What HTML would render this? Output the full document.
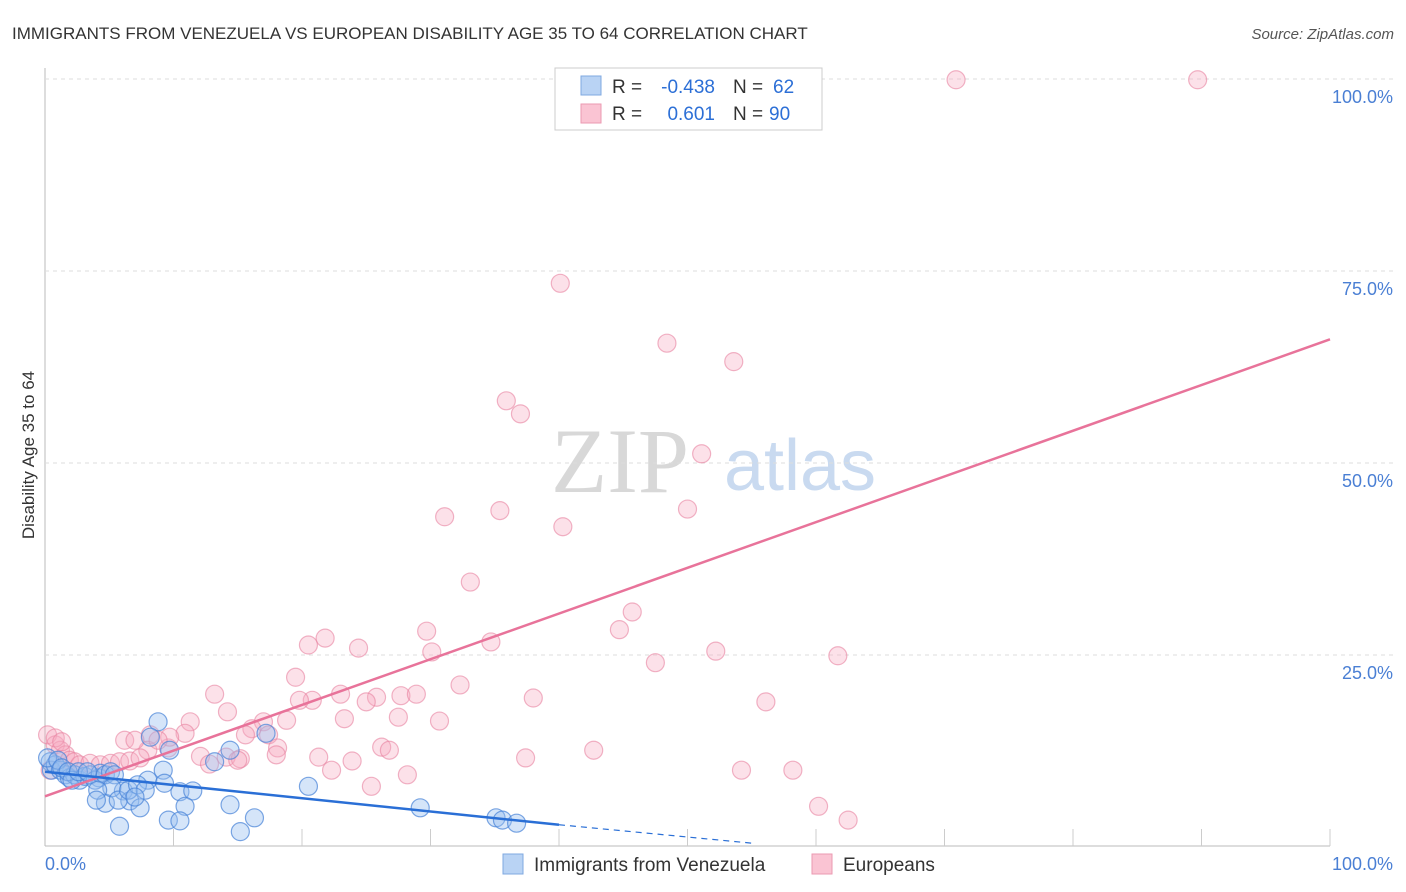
<!DOCTYPE html>
<html><head><meta charset="utf-8"><style>
body{margin:0;background:#fff;font-family:"Liberation Sans",sans-serif;}
svg{display:block}
</style></head><body>
<svg id="chart" width="1406" height="892">
<text x="12" y="39" font-size="17" fill="#333">IMMIGRANTS FROM VENEZUELA VS EUROPEAN DISABILITY AGE 35 TO 64 CORRELATION CHART</text>
<text x="1394" y="39" font-size="15" fill="#555" font-style="italic" text-anchor="end">Source: ZipAtlas.com</text>
<text x="620" y="492" font-size="92" fill="#d8d8d8" font-family="Liberation Serif,serif" text-anchor="middle">ZIP</text>
<text x="800" y="490" font-size="72" fill="#c9daf0" text-anchor="middle">atlas</text>
<g id="grid"></g>
<g id="pts"></g>
<g id="lines"></g>
<text transform="translate(34,455) rotate(-90)" font-size="17" fill="#333" text-anchor="middle">Disability Age 35 to 64</text>
<text x="45" y="870" font-size="18" fill="#4a7fd4">0.0%</text>
<text x="1393" y="870" font-size="18" fill="#4a7fd4" text-anchor="end">100.0%</text>
<g>
<rect x="555" y="68" width="267" height="62" fill="#fff" stroke="#ccc"/>
<rect x="581" y="76" width="20" height="19" fill="#b9d3f4" stroke="#7fa8e0"/>
<rect x="581" y="104" width="20" height="19" fill="#fac4d3" stroke="#eb9ab1"/>
<text x="612" y="93" font-size="19" fill="#333">R =</text>
<text x="715" y="93" font-size="19" fill="#2c6fd6" text-anchor="end">-0.438</text>
<text x="733" y="93" font-size="19" fill="#333">N =</text>
<text x="773" y="93" font-size="19" fill="#2c6fd6">62</text>
<text x="612" y="120" font-size="19" fill="#333">R =</text>
<text x="715" y="120" font-size="19" fill="#2c6fd6" text-anchor="end">0.601</text>
<text x="733" y="120" font-size="19" fill="#333">N =</text>
<text x="769" y="120" font-size="19" fill="#2c6fd6">90</text>
</g>
<g>
<rect x="503" y="854" width="20" height="20" fill="#b9d3f4" stroke="#7fa8e0"/>
<text x="534" y="871" font-size="19" fill="#333">Immigrants from Venezuela</text>
<rect x="812" y="854" width="20" height="20" fill="#fac4d3" stroke="#eb9ab1"/>
<text x="843" y="871" font-size="19" fill="#333">Europeans</text>
</g>
</svg>
<script>
const yTicks=[25,50,75,100];
const yTickLabels=["25.0%","50.0%","75.0%","100.0%"];
const xTicks=[10,20,30,40,50,60,70,80,90,100];
const pinkX=[70.9,89.7,40.1,48.4,53.6,35.9,37.0,51.1,31.1,35.4,40.3,50.0,33.1,45.7,44.7,29.7,34.7,21.8,20.5,24.4,30.1,52.2,47.5,61.7,19.5,32.3,13.2,20.8,23.0,25.8,27.7,28.9,38.0,25.0,19.8,56.1,14.2,11.3,23.3,30.7,17.0,18.8,27.5,8.2,10.9,16.1,17.4,15.6,26.2,26.8,9.6,8.0,18.1,42.7,12.1,14.1,15.2,12.8,21.3,23.9,37.4,18.0,22.3,28.2,54.2,58.2,25.4,60.2,62.5,0.2,0.8,1.2,1.6,1.9,2.3,2.7,3.5,4.3,5.1,5.8,6.6,7.4,0.8,1.3,0.4,6.2,9.7,15.0,8.8,7.0];
const pinkY=[99.9,99.9,73.4,65.6,63.2,58.1,56.4,51.2,43.0,43.8,41.7,44.0,34.5,30.6,28.3,28.1,26.7,27.2,26.3,25.9,25.4,25.5,24.0,24.9,22.1,21.1,19.9,19.1,19.9,19.5,19.7,19.9,19.4,18.9,19.1,18.9,17.6,16.3,16.7,16.4,16.3,16.5,16.9,14.6,14.8,15.4,14.6,14.6,13.0,12.6,12.9,12.6,12.9,12.6,11.8,11.7,11.5,10.8,11.7,11.2,11.6,12.0,10.0,9.4,10.0,10.0,7.9,5.3,3.5,14.6,13.3,12.6,12.0,11.3,11.1,10.7,10.9,10.7,10.9,11.1,11.2,11.6,14.2,13.7,10.0,13.9,14.3,11.3,13.9,13.9];
const blueX=[8.8,14.4,9.7,8.2,17.2,9.2,8.0,10.5,11.5,4.2,4.7,6.1,6.6,7.4,5.8,10.9,14.4,9.6,10.5,15.2,16.3,20.5,29.2,35.1,35.6,36.7,0.4,0.5,0.8,1.2,1.6,1.9,2.3,2.7,3.1,3.5,3.9,4.3,4.7,5.1,5.4,0.2,1.0,1.3,1.8,2.1,2.6,3.3,5.2,5.7,6.5,7.2,7.8,4.1,4.0,7.0,13.2,9.3];
const blueY=[16.3,12.6,12.6,14.3,14.8,10.0,8.7,7.2,7.3,9.0,5.7,7.3,6.0,5.1,2.7,5.3,5.5,3.5,3.4,2.0,3.8,7.9,5.1,3.8,3.5,3.1,11.1,10.0,10.7,10.0,9.4,9.0,9.4,8.7,9.2,9.4,8.7,9.6,9.4,9.8,9.4,11.6,11.3,10.3,9.8,8.7,9.8,9.8,7.7,6.1,7.4,8.1,7.4,7.4,6.1,6.5,11.1,8.3];
const pinkLine=[6.6,66.1];
const blueLine=[9.8,2.9,40,0.5,55];
const X=v=>45+v*12.85, Y=v=>847-v*7.68;
const NS="http://www.w3.org/2000/svg";
function mk(tag,attrs,parent){const e=document.createElementNS(NS,tag);for(const k in attrs)e.setAttribute(k,attrs[k]);parent.appendChild(e);return e;}
const grid=document.getElementById('grid');
mk('line',{x1:45,y1:68,x2:45,y2:846,stroke:'#bbb'},grid);
mk('line',{x1:45,y1:846,x2:1330,y2:846,stroke:'#bbb'},grid);
yTicks.forEach((t,i)=>{
 const l=mk('line',{x1:45,y1:Y(t),x2:1395,y2:Y(t),stroke:'#ddd','stroke-dasharray':'4,4'},grid);
 
 
 const tx=mk('text',{x:1393,y:Y(t)+24,'font-size':18,fill:'#4a7fd4','text-anchor':'end'},grid);
 tx.textContent=yTickLabels[i];
 
 
});
xTicks.forEach(t=>{
 const l=mk('line',{x1:X(t),y1:829,x2:X(t),y2:846,stroke:'#ccc'},grid);
 
 
});
const pts=document.getElementById('pts');
pinkX.forEach((x,i)=>{
 const c=mk('circle',{cx:X(x),cy:Y(pinkY[i]),r:9,fill:'rgba(246,170,192,0.35)',stroke:'rgba(232,130,160,0.6)','stroke-width':1.2},pts);
 
 
});
blueX.forEach((x,i)=>{
 const c=mk('circle',{cx:X(x),cy:Y(blueY[i]),r:9,fill:'rgba(150,190,240,0.4)',stroke:'rgba(70,130,215,0.7)','stroke-width':1.2},pts);
 
 
});
const lines=document.getElementById('lines');
const pl=mk('line',{x1:X(0),y1:Y(pinkLine[0]),x2:X(100),y2:Y(pinkLine[1]),stroke:'#e8739a','stroke-width':2.5},lines);


const bl=mk('line',{x1:X(0),y1:Y(blueLine[0]),x2:X(blueLine[2]),y2:Y(blueLine[1]),stroke:'#2a6fd6','stroke-width':2.5},lines);


const bd=mk('line',{x1:X(blueLine[2]),y1:Y(blueLine[1]),x2:X(blueLine[4]),y2:Y(blueLine[3]),stroke:'#2a6fd6','stroke-width':1.2,'stroke-dasharray':'6,5'},lines);


</script>
</body></html>
